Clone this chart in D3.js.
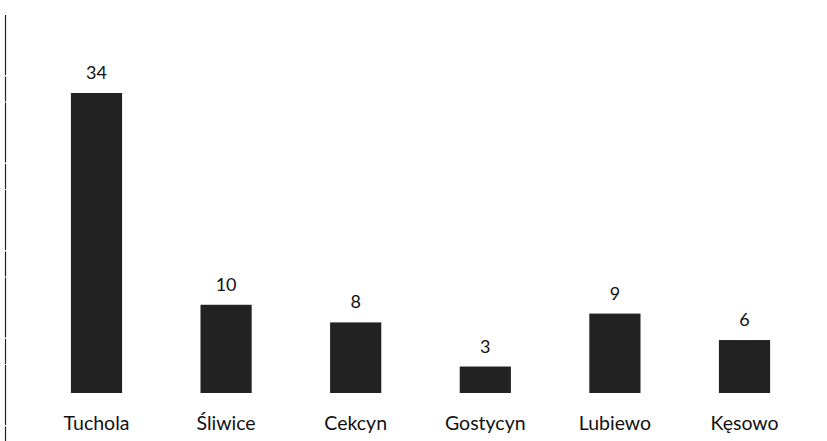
<!DOCTYPE html>
<html>
<head>
<meta charset="utf-8">
<script src="https://cdn.jsdelivr.net/npm/d3@7"></script>
<style>
  body { margin: 0; background: #fff; }
  svg { display: block; }
</style>
</head>
<body>
<div id="chart"></div>
<script>
// dane
const categories = ['Tuchola', 'Śliwice', 'Cekcyn', 'Gostycyn', 'Lubiewo', 'Kęsowo'];
const values = [34, 10, 8, 3, 9, 6];

const width = 827;
const height = 441;
const baseline = 393;

const svg = d3.select('#chart')
    .append('svg')
    .attr('width', width)
    .attr('height', height);

// ramka z lewej strony
svg.append('line')
    .attr('x1', 5.5).attr('x2', 5.5)
    .attr('y1', 15).attr('y2', height)
    .attr('stroke', '#222')
    .attr('stroke-width', 1.2)
    .attr('stroke-dasharray', '60 1.5 25 1');

const xScale = d3.scaleBand()
    .domain(categories)
    .range([32, 809])
    .paddingInner(0.605)
    .paddingOuter(0.3);

const yScale = d3.scaleLinear()
    .domain([0, 34])
    .range([baseline, 93]);

const data = categories.map((c, i) => ({ name: c, value: values[i] }));

// słupki
svg.selectAll('.bar')
    .data(data)
    .enter()
    .append('rect')
    .attr('class', 'bar')
    .attr('x', d => xScale(d.name))
    .attr('y', d => yScale(d.value))
    .attr('width', xScale.bandwidth())
    .attr('height', d => baseline - yScale(d.value))
    .attr('fill', '#222');

// wartości nad słupkami
svg.selectAll('.val')
    .data(data)
    .enter()
    .append('text')
    .attr('class', 'val')
    .attr('x', d => xScale(d.name) + xScale.bandwidth() / 2)
    .attr('y', d => yScale(d.value) - 14)
    .attr('text-anchor', 'middle')
    .style('font-family', 'Lato, sans-serif')
    .style('font-size', '18px')
    .style('fill', '#111')
    .text(d => d.value);

// oś x bez linii
const axis = svg.append('g')
    .attr('transform', `translate(0, ${baseline})`)
    .call(d3.axisBottom(xScale).tickSize(0).tickPadding(23));
axis.select('.domain').remove();
axis.selectAll('text')
    .style('font-family', 'Lato, sans-serif')
    .style('font-size', '19.5px')
    .style('fill', '#111');
</script>
</body>
</html>
